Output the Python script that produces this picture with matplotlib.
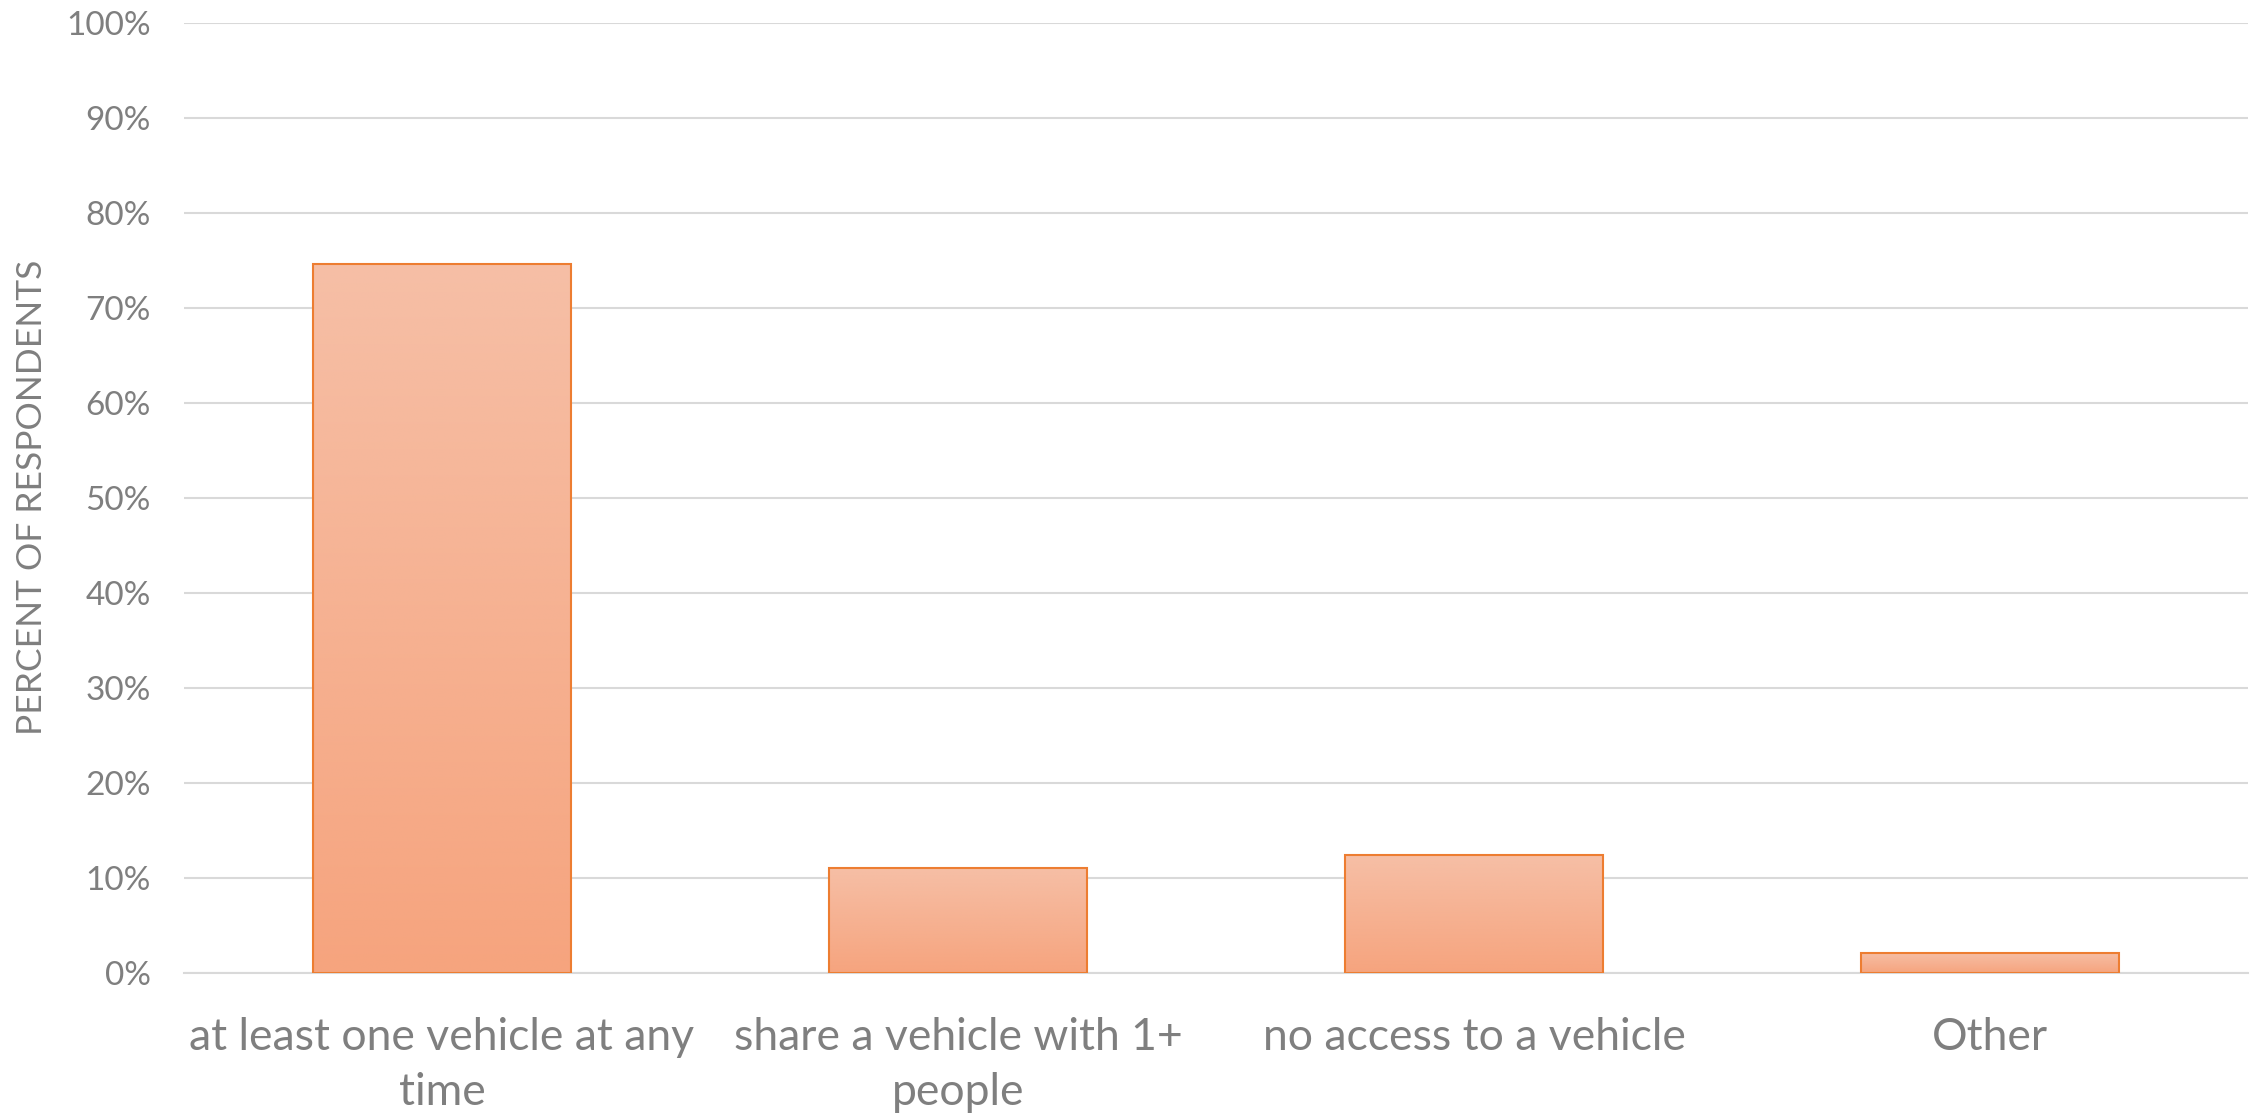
import numpy as np
import matplotlib
matplotlib.use("Agg")
import matplotlib.pyplot as plt
from matplotlib.colors import LinearSegmentedColormap

# data
categories = ["at least one vehicle at any\ntime", "share a vehicle with 1+\npeople",
              "no access to a vehicle", "Other"]
percents = [74.6, 11.1, 12.4, 2.15]
yticks = list(range(0, 101, 10))

plt.rcParams['font.family'] = ['Lato', 'DejaVu Sans']
grey = '#7F7F7F'

fig = plt.figure(figsize=(22.57, 11.18), dpi=100)
ax = fig.add_axes([184 / 2257, 1 - 973 / 1118, 2064 / 2257, 950 / 1118])

x = np.arange(len(categories))
bars = ax.bar(x, percents, width=0.5, facecolor='none', edgecolor='#ED7D31',
              linewidth=1.5, zorder=3)

# vertical gradient inside each bar, lighter at the top
cmap = LinearSegmentedColormap.from_list('grad', ['#F6A47E', '#F6BFA6'])
grad = np.linspace(0, 1, 256).reshape(-1, 1)
for b in bars:
    x0, w, h = b.get_x(), b.get_width(), b.get_height()
    im = ax.imshow(grad, cmap=cmap, origin='lower', aspect='auto',
                   extent=[x0, x0 + w, 0, h], zorder=2)
    im.set_clip_path(b)

ax.set_xlim(-0.5, len(categories) - 0.5)
ax.set_ylim(0, 100)
ax.set_yticks(yticks)
ax.set_yticklabels([f"{t}%" for t in yticks])
ax.set_xticks(x)
ax.set_xticklabels(categories, fontsize=32, color=grey, linespacing=1.42)
ax.tick_params(axis='y', labelsize=24, labelcolor=grey, length=0, pad=24)
ax.tick_params(axis='x', length=0, pad=32)

ax.grid(axis='y', color='#D9D9D9', linewidth=1.5, zorder=0)
for s in ['top', 'right', 'left']:
    ax.spines[s].set_visible(False)
ax.spines['bottom'].set_color('#D9D9D9')
ax.spines['bottom'].set_linewidth(1.5)

fig.text(32 / 2257, 1 - 497 / 1118, "PERCENT OF RESPONDENTS", rotation=90,
         fontsize=25.5, color=grey, ha='center', va='center')

fig.savefig("out.png", dpi=100, facecolor='white')
